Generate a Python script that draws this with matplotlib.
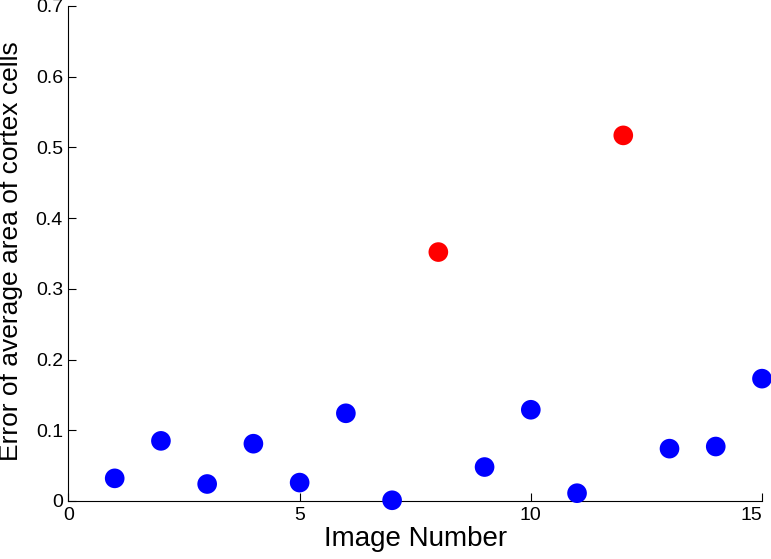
import matplotlib
matplotlib.use('Agg')
import matplotlib.pyplot as plt

plt.rcParams['font.family'] = ['Liberation Sans', 'DejaVu Sans']

# values
image_num = [1, 2, 3, 4, 5, 6, 7, 8, 9, 10, 11, 12, 13, 14, 15]
err = [0.032, 0.085, 0.024, 0.081, 0.026, 0.124, 0.001, 0.352,
       0.048, 0.129, 0.011, 0.517, 0.074, 0.077, 0.173]
outlier = [8, 12]

xticks = [0, 5, 10, 15]
yticks = [0, 0.1, 0.2, 0.3, 0.4, 0.5, 0.6, 0.7]

cols = ['red' if n in outlier else 'blue' for n in image_num]

fig = plt.figure(figsize=(7.71, 5.59), dpi=100)
ax = fig.add_axes([0.0888, 0.1038, 0.8995, 0.8855])

ax.scatter(image_num, err, s=200, c=cols, edgecolors='none', clip_on=False, zorder=3)

ax.set_xlim(0, 15)
ax.set_ylim(0, 0.7)
ax.set_xticks(xticks)
ax.set_xticklabels([str(t) for t in xticks])
ax.set_yticks(yticks)
ax.set_yticklabels(['0'] + ['%.1f' % t for t in yticks[1:]])

ax.spines['top'].set_visible(False)
ax.spines['right'].set_visible(False)
for s in ['left', 'bottom']:
    ax.spines[s].set_linewidth(0.8)
ax.tick_params(direction='in', length=5.5, width=0.8, labelsize=14, pad=4)
# last x tick label sits right at the figure edge, nudge it in a bit
ax.get_xticklabels()[-1].set_horizontalalignment('right')
ax.get_xticklabels()[-1].set_x(15.02)

ax.set_xlabel('Image Number', fontsize=20, labelpad=2)
ax.set_ylabel('Error of average area of cortex cells', fontsize=19)
ax.yaxis.set_label_coords(-0.066, 0.505)

fig.savefig('out.png', dpi=100)
